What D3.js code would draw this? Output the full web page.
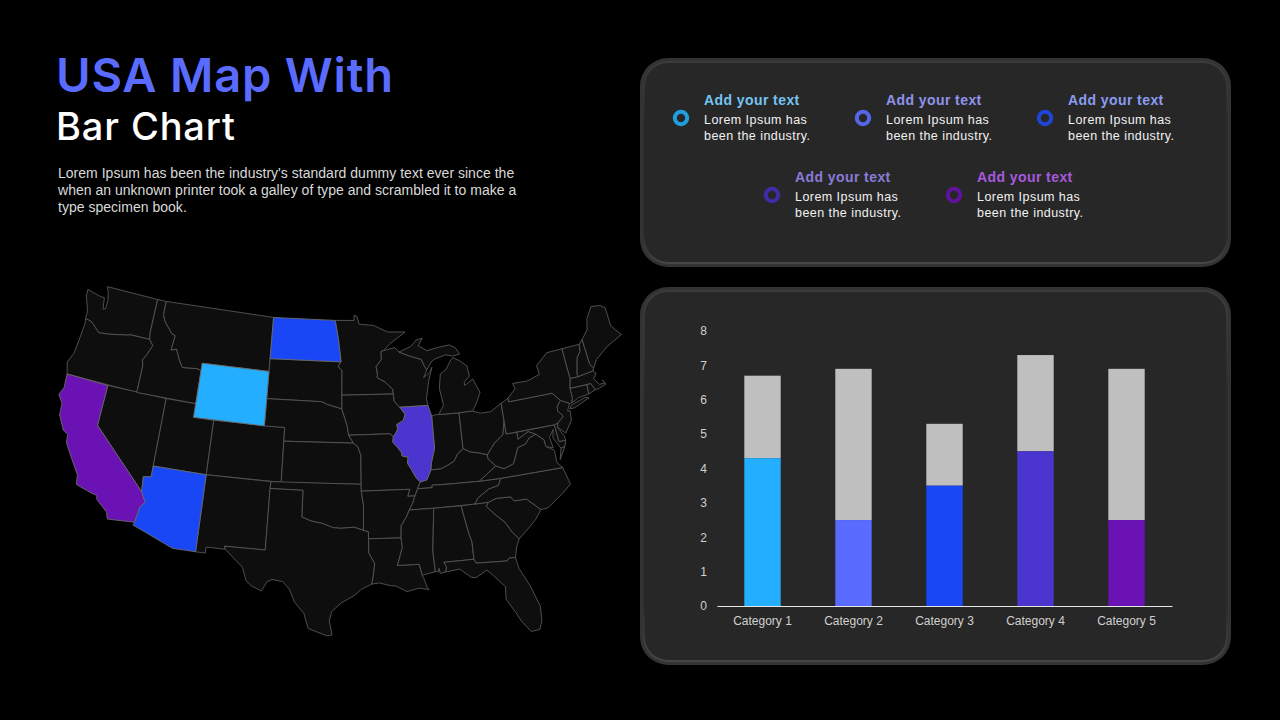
<!DOCTYPE html>
<html lang="en">
<head>
	<title>USA Map With Bar Chart</title>
	<meta charset="utf-8" />
	<script src="https://cdnjs.cloudflare.com/ajax/libs/d3/7.8.5/d3.min.js"></script>
	<style>
		html, body { margin: 0; background: #000; overflow: hidden; }
		svg { display: block; }
	</style>
</head>
<body>
	<svg width="1280" height="720"></svg>
	<script>
		// bar chart values
		const categories = ["Category 1", "Category 2", "Category 3", "Category 4", "Category 5"];
		const seriesA = [4.3, 2.5, 3.5, 4.5, 2.5];
		const seriesB = [2.4, 4.4, 1.8, 2.8, 4.4];
		const yTicks = [0, 1, 2, 3, 4, 5, 6, 7, 8];
		const barColors = ["#23aeff", "#5a6cff", "#1a47f5", "#4a35cf", "#6a12b4"];
		const barRest = "#bfbfbf";

		// legend
		const legendTitles = ["Add your text", "Add your text", "Add your text", "Add your text", "Add your text"];
		const legendLines = ["Lorem Ipsum has", "been the industry."];
		const legendTitleColors = ["#74c4f0", "#8f93ec", "#8a9cf0", "#8a7bd8", "#a65adf"];
		const legendRingColors = ["#1f9fe0", "#5566e6", "#1e44d8", "#3f2ca8", "#5f129c"];

		// text
		const bodyLines = [
			"Lorem Ipsum has been the industry's standard dummy text ever since the",
			"when an unknown printer took a galley of type and scrambled it to make a",
			"type specimen book."
		];

		// highlighted states on the map
		const stateColors = { WY: "#23aeff", ND: "#1a47f5", AZ: "#1a47f5", IL: "#4a35cf", CA: "#6a12b4" };

		// state outlines, lon/lat rings
		const stateOutlines = {
			WA: [[[-122.76,49],[-117.03,49],[-117.04,46.42],[-116.92,45.995],[-118.98,46],[-119.3,45.93],[-121.2,45.65],[-122.3,45.55],[-122.8,45.85],[-123.4,46.2],[-124.05,46.27],[-124.1,46.9],[-124.7,47.9],[-124.73,48.38],[-123.2,48.15],[-122.75,48.15],[-122.55,47.3],[-122.3,47.4],[-122.3,48],[-122.5,48.6]]],
			OR: [[[-124.05,46.27],[-123.4,46.2],[-122.8,45.85],[-122.3,45.55],[-121.2,45.65],[-119.3,45.93],[-118.98,46],[-116.92,45.995],[-116.46,45.6],[-116.85,44.9],[-117.2,44.4],[-117.03,44],[-117.03,42],[-124.21,42],[-124.55,42.84],[-124.15,43.6],[-124.05,44.7],[-123.95,45.9]]],
			CA: [[[-124.21,42],[-120,42],[-120,39],[-114.63,35],[-114.14,34.3],[-114.5,33.9],[-114.72,32.72],[-117.12,32.53],[-117.3,33],[-118.4,33.75],[-118.5,34.03],[-119.2,34.15],[-120.5,34.45],[-120.65,35.15],[-121.9,36.6],[-122.4,37.2],[-122.5,37.8],[-123,38],[-123.75,39],[-123.85,39.85],[-124.4,40.4],[-124.1,41]]],
			NV: [[[-120,42],[-114.04,42],[-114.04,36.2],[-114.75,36.1],[-114.63,35],[-120,39]]],
			ID: [[[-117.03,49],[-116.05,49],[-116.05,48],[-115.7,47.5],[-114.75,46.75],[-114.35,46.65],[-114.5,45.55],[-113.95,45.7],[-113.45,44.95],[-113,44.45],[-111.5,44.55],[-111.05,44.47],[-111.05,42],[-117.03,42],[-117.03,44],[-117.2,44.4],[-116.85,44.9],[-116.46,45.6],[-116.92,45.995],[-117.04,46.42]]],
			MT: [[[-116.05,49],[-104.05,49],[-104.05,45],[-111.05,45],[-111.05,44.47],[-111.5,44.55],[-113,44.45],[-113.45,44.95],[-113.95,45.7],[-114.5,45.55],[-114.35,46.65],[-114.75,46.75],[-115.7,47.5],[-116.05,48]]],
			WY: [[[-111.05,45],[-104.05,45],[-104.05,41],[-111.05,41]]],
			UT: [[[-114.04,42],[-111.05,42],[-111.05,41],[-109.05,41],[-109.05,37],[-114.04,37]]],
			AZ: [[[-114.04,37],[-109.05,37],[-109.05,31.33],[-111.07,31.33],[-114.81,32.5],[-114.72,32.72],[-114.5,33.9],[-114.14,34.3],[-114.63,35],[-114.75,36.1],[-114.04,36.2]]],
			CO: [[[-109.05,41],[-102.05,41],[-102.05,37],[-109.05,37]]],
			NM: [[[-109.05,37],[-103,37],[-103.04,36.5],[-103.06,32],[-106.62,32],[-106.53,31.78],[-108.2,31.78],[-108.2,31.33],[-109.05,31.33]]],
			ND: [[[-104.05,49],[-97.23,49],[-96.85,47.6],[-96.56,45.94],[-104.05,45.94]]],
			SD: [[[-104.05,45.94],[-96.56,45.94],[-96.85,45.6],[-96.45,45.3],[-96.45,43.5],[-96.45,42.49],[-97.9,42.8],[-98.5,43],[-104.05,43]]],
			NE: [[[-104.05,43],[-98.5,43],[-97.9,42.8],[-96.45,42.49],[-96.1,41.7],[-95.9,41.2],[-95.77,40.58],[-95.31,40],[-102.05,40],[-102.05,41],[-104.05,41]]],
			KS: [[[-102.05,40],[-95.31,40],[-94.9,39.75],[-94.61,39.11],[-94.62,37],[-102.05,37]]],
			OK: [[[-103,37],[-94.62,37],[-94.62,36.5],[-94.43,35.4],[-94.48,33.64],[-95.3,33.88],[-96.5,33.8],[-97.2,33.85],[-98.1,34.13],[-99.2,34.3],[-100,34.56],[-100,36.5],[-103.04,36.5]]],
			TX: [[[-103.04,36.5],[-100,36.5],[-100,34.56],[-99.2,34.3],[-98.1,34.13],[-97.2,33.85],[-96.5,33.8],[-95.3,33.88],[-94.48,33.64],[-94.04,33.55],[-94.04,33.02],[-94.04,31.99],[-93.55,31.2],[-93.7,30.3],[-93.84,29.7],[-94.7,29.35],[-95.3,28.9],[-96.4,28.35],[-97.2,27.7],[-97.4,27],[-97.15,25.96],[-97.6,25.9],[-99.1,26.4],[-99.5,27.5],[-100.3,28.3],[-100.8,29.25],[-101.4,29.77],[-102.3,29.88],[-102.7,29.7],[-103.15,28.98],[-104,29.3],[-104.5,29.65],[-104.9,30.6],[-106.53,31.78],[-106.62,32],[-103.06,32]]],
			MN: [[[-97.23,49],[-95.15,49],[-95.15,49.38],[-94.8,49.3],[-94.6,48.72],[-93,48.6],[-91.5,48.07],[-89.6,48],[-91.3,47.2],[-92.01,46.71],[-92.29,46.66],[-92.29,46.07],[-92.87,45.57],[-92.76,44.96],[-92.8,44.75],[-92,44.4],[-91.25,43.85],[-91.22,43.5],[-96.45,43.5],[-96.45,45.3],[-96.85,45.6],[-96.56,45.94],[-96.85,47.6]]],
			IA: [[[-96.45,43.5],[-91.22,43.5],[-91.15,42.95],[-90.64,42.51],[-90.15,41.98],[-90.34,41.55],[-91.05,41.25],[-90.95,40.95],[-91.12,40.7],[-91.42,40.38],[-91.73,40.61],[-95.77,40.58],[-95.9,41.2],[-96.1,41.7],[-96.45,42.49]]],
			MO: [[[-95.77,40.58],[-91.73,40.61],[-91.42,40.38],[-91.5,40],[-90.73,39.25],[-90.67,38.95],[-90.12,38.85],[-90.2,38.4],[-89.85,37.9],[-89.5,37.33],[-89.13,36.98],[-89.42,36.5],[-89.7,36],[-90.37,36],[-90.15,36.5],[-94.62,36.5],[-94.62,37],[-94.61,39.11],[-94.9,39.75],[-95.31,40]]],
			AR: [[[-94.62,36.5],[-90.15,36.5],[-90.37,36],[-89.7,36],[-89.95,35.5],[-90.3,35],[-90.6,34.5],[-91.1,33.9],[-91.17,33],[-94.04,33.02],[-94.04,33.55],[-94.48,33.64],[-94.43,35.4]]],
			LA: [[[-94.04,33.02],[-91.17,33],[-91.1,32.3],[-91.6,31],[-89.73,31],[-89.53,30.18],[-89.4,29.9],[-89.2,29.3],[-89.05,29.1],[-89.9,29.25],[-90.9,29.05],[-91.8,29.5],[-92.3,29.55],[-93.2,29.77],[-93.84,29.7],[-93.7,30.3],[-93.55,31.2],[-94.04,31.99]]],
			WI: [[[-92.01,46.71],[-90.8,46.9],[-90.4,46.55],[-89.1,46.15],[-88.1,45.9],[-87.8,45.35],[-87.6,45.1],[-88,44.55],[-87.35,44.9],[-87.05,45.25],[-87.5,44.3],[-87.9,43],[-87.8,42.49],[-90.64,42.51],[-91.15,42.95],[-91.22,43.5],[-91.25,43.85],[-92,44.4],[-92.8,44.75],[-92.76,44.96],[-92.87,45.57],[-92.29,46.07],[-92.29,46.66]]],
			IL: [[[-90.64,42.51],[-87.8,42.49],[-87.53,41.71],[-87.53,39.35],[-87.95,38.3],[-88.05,37.8],[-88.5,37.1],[-89.13,36.98],[-89.5,37.33],[-89.85,37.9],[-90.2,38.4],[-90.12,38.85],[-90.67,38.95],[-90.73,39.25],[-91.5,40],[-91.42,40.38],[-91.12,40.7],[-90.95,40.95],[-91.05,41.25],[-90.34,41.55],[-90.15,41.98]]],
			IN: [[[-87.53,41.71],[-87.2,41.76],[-86.82,41.76],[-84.8,41.72],[-84.82,39.1],[-85.42,38.73],[-85.8,38.25],[-86.5,38],[-87.1,37.8],[-88.05,37.8],[-87.95,38.3],[-87.53,39.35]]],
			MI: [
				[[-86.82,41.76],[-86.25,42.4],[-86.5,43.65],[-86.25,44.7],[-85.6,45],[-85,45.65],[-84.75,45.78],[-84.1,45.5],[-83.4,45.05],[-83.3,44.3],[-83.9,43.9],[-83.9,43.65],[-83,44.05],[-82.45,43],[-82.9,42.35],[-83.15,42.05],[-83.45,41.73],[-84.8,41.72]],
				[[-90.4,46.55],[-89.1,46.9],[-88.45,47.35],[-87.8,47.45],[-88.3,46.9],[-87.4,46.5],[-86.1,46.67],[-85,46.75],[-84.4,46.5],[-84,46],[-84.75,45.9],[-85.5,46.05],[-86.6,45.85],[-87,45.7],[-87.6,45.1],[-87.8,45.35],[-88.1,45.9],[-89.1,46.15]]
			],
			OH: [[[-84.8,41.72],[-83.45,41.73],[-82.7,41.5],[-81.7,41.5],[-80.52,41.98],[-80.52,40.64],[-80.85,39.7],[-81.75,39.2],[-82.1,38.9],[-82.6,38.42],[-83.2,38.6],[-84.2,38.8],[-84.82,39.1]]],
			KY: [[[-89.13,36.98],[-88.5,37.1],[-88.05,37.8],[-87.1,37.8],[-86.5,38],[-85.8,38.25],[-85.42,38.73],[-84.82,39.1],[-84.2,38.8],[-83.2,38.6],[-82.6,38.42],[-82.6,38.15],[-81.97,37.54],[-83.68,36.6],[-86.5,36.65],[-88.07,36.68],[-88.07,36.5],[-89.42,36.5]]],
			TN: [[[-89.42,36.5],[-88.07,36.5],[-88.07,36.68],[-86.5,36.65],[-83.68,36.6],[-81.68,36.59],[-82,36.1],[-82.9,35.95],[-84,35.4],[-84.32,34.99],[-88.2,35],[-90.3,35],[-89.95,35.5],[-89.7,36]]],
			MS: [[[-90.3,35],[-88.2,35],[-88.1,34.9],[-88.47,31.9],[-88.4,30.37],[-89.53,30.18],[-89.73,31],[-91.6,31],[-91.1,32.3],[-91.17,33],[-91.1,33.9],[-90.6,34.5]]],
			AL: [[[-88.2,35],[-85.6,34.98],[-85.18,32.87],[-85,32.3],[-85,31],[-87.6,31],[-87.4,30.65],[-87.52,30.28],[-88,30.22],[-88.05,30.6],[-88.15,30.35],[-88.4,30.37],[-88.47,31.9],[-88.1,34.9]]],
			GA: [[[-85.6,34.98],[-83.11,35],[-83.35,34.7],[-82.6,34],[-81.9,33.4],[-81.4,32.6],[-80.88,32.03],[-81.2,31.5],[-81.45,30.72],[-82,30.75],[-82.2,30.56],[-84.86,30.7],[-85,31],[-85,32.3],[-85.18,32.87]]],
			FL: [[[-87.6,31],[-85,31],[-84.86,30.7],[-82.2,30.56],[-82,30.75],[-81.45,30.72],[-81.3,29.9],[-80.6,28.5],[-80.05,26.9],[-80.12,25.8],[-80.4,25.2],[-81.1,25.15],[-81.75,26],[-82.1,26.7],[-82.75,27.8],[-82.65,28.7],[-83.4,29.5],[-84,30.1],[-85,29.65],[-85.4,29.7],[-86.3,30.4],[-87.52,30.28],[-87.4,30.65]]],
			SC: [[[-83.11,35],[-82.35,35.2],[-81.05,35.15],[-80.8,34.82],[-79.67,34.8],[-78.55,33.86],[-79.2,33.2],[-79.9,32.7],[-80.88,32.03],[-81.4,32.6],[-81.9,33.4],[-82.6,34],[-83.35,34.7]]],
			NC: [[[-84.32,34.99],[-84,35.4],[-82.9,35.95],[-82,36.1],[-81.68,36.59],[-75.87,36.55],[-75.5,35.25],[-76.5,34.65],[-77.9,33.9],[-78.55,33.86],[-79.67,34.8],[-80.8,34.82],[-81.05,35.15],[-82.35,35.2],[-83.11,35]]],
			VA: [
				[[-83.68,36.6],[-81.68,36.59],[-75.87,36.55],[-76.3,37],[-76.3,37.9],[-77,38.3],[-77.05,38.8],[-77.72,39.32],[-78.4,39.15],[-78.87,38.76],[-79.65,38.6],[-80.3,37.5],[-81.25,37.25],[-81.97,37.54]],
				[[-75.25,38.03],[-75.95,37.15],[-75.65,37.95]]
			],
			WV: [[[-80.52,40.64],[-80.52,39.72],[-79.48,39.72],[-79.48,39.2],[-78.4,39.62],[-77.72,39.32],[-78.4,39.15],[-78.87,38.76],[-79.65,38.6],[-80.3,37.5],[-81.25,37.25],[-81.97,37.54],[-82.6,38.15],[-82.6,38.42],[-82.1,38.9],[-81.75,39.2],[-80.85,39.7]]],
			MD: [[[-79.48,39.72],[-75.79,39.72],[-75.7,38.46],[-75.05,38.45],[-75.25,38.03],[-75.65,37.95],[-76.2,38.8],[-76,39.4],[-76.5,38.9],[-76.35,38.1],[-77,38.3],[-77.05,38.8],[-77.72,39.32],[-78.4,39.62],[-79.48,39.2]]],
			DE: [[[-75.79,39.72],[-75.4,39.8],[-75.55,39.45],[-75.1,38.8],[-75.05,38.45],[-75.7,38.46]]],
			PA: [[[-80.52,41.98],[-79.76,42.27],[-79.76,42],[-75.35,42],[-74.7,41.36],[-75.13,40.98],[-75.2,40.65],[-74.75,40.2],[-75.4,39.8],[-75.79,39.72],[-80.52,39.72]]],
			NJ: [[[-74.7,41.36],[-73.9,41],[-74.25,40.5],[-74,40.45],[-74.1,39.75],[-74.9,38.95],[-75.55,39.5],[-75.4,39.8],[-74.75,40.2],[-75.2,40.65],[-75.13,40.98]]],
			NY: [
				[[-79.76,42.27],[-78.9,42.85],[-79.05,43.27],[-77.5,43.25],[-76.2,43.55],[-76.3,44.2],[-75,44.98],[-73.35,45.01],[-73.3,43.6],[-73.25,42.75],[-73.5,42.05],[-73.5,41.3],[-73.65,41],[-73.9,41],[-74.7,41.36],[-75.35,42],[-79.76,42]],
				[[-74,40.6],[-73.75,40.85],[-72.3,41.15],[-71.9,41.05],[-73.5,40.6]]
			],
			VT: [[[-73.35,45.01],[-71.5,45.01],[-71.6,44.5],[-72.05,44.1],[-72.45,43],[-72.46,42.73],[-73.25,42.75],[-73.3,43.6]]],
			NH: [[[-71.5,45.01],[-71.08,45.3],[-70.98,43.4],[-70.7,43.07],[-70.82,42.87],[-72.46,42.73],[-72.45,43],[-72.05,44.1],[-71.6,44.5]]],
			ME: [[[-71.08,45.3],[-70.3,45.9],[-70,46.7],[-69.23,47.46],[-68.3,47.36],[-67.8,47.07],[-67.8,45.7],[-67.45,45.3],[-67,44.85],[-68.8,44.3],[-70.2,43.6],[-70.7,43.07],[-70.98,43.4]]],
			MA: [[[-73.5,42.05],[-73.25,42.75],[-72.46,42.73],[-70.82,42.87],[-70.6,42.65],[-71,42.3],[-70.55,41.8],[-70,41.8],[-70.2,42.07],[-69.95,41.7],[-70.65,41.53],[-71.12,41.5],[-71.38,42.02]]],
			RI: [[[-71.38,42.02],[-71.8,42.01],[-71.85,41.32],[-71.12,41.5]]],
			CT: [[[-73.5,42.05],[-71.8,42.01],[-71.85,41.32],[-72.9,41.25],[-73.65,41],[-73.5,41.3]]]
		};

		let svg = d3.select('svg');
		const sans = "'Liberation Sans', Arial, sans-serif";

		// heading
		svg.append('text')
			.attr('x', 56).attr('y', 92)
			.attr('font-family', "Inter, 'Open Sans', sans-serif")
			.attr('font-weight', 600).attr('font-size', 47)
			.attr('fill', '#5a6cff')
			.attr('textLength', 337)
			.text("USA Map With");
		svg.append('text')
			.attr('x', 56).attr('y', 140)
			.attr('font-family', "Inter, 'Open Sans', sans-serif")
			.attr('font-weight', 500).attr('font-size', 38)
			.attr('fill', '#ffffff')
			.attr('textLength', 179)
			.text("Bar Chart");
		svg.selectAll('text.body')
			.data(bodyLines)
			.enter()
			.append('text')
			.attr('class', 'body')
			.attr('x', 58)
			.attr('y', (d, i) => 178 + i * 17)
			.attr('font-family', sans).attr('font-size', 14)
			.attr('letter-spacing', 0.02)
			.attr('fill', '#d9d9d9')
			.text(d => d);

		// soft top and bottom light on the panel edge
		let edge = svg.append('defs').append('linearGradient')
			.attr('id', 'edge').attr('x1', 0).attr('y1', 0).attr('x2', 0).attr('y2', 1);
		edge.append('stop').attr('offset', '0%').attr('stop-color', '#3c3c3c');
		edge.append('stop').attr('offset', '30%').attr('stop-color', '#2b2b2b');
		edge.append('stop').attr('offset', '85%').attr('stop-color', '#2b2b2b');
		edge.append('stop').attr('offset', '100%').attr('stop-color', '#464646');

		// rounded panels
		function panel(x, y, w, h) {
			svg.append('rect')
				.attr('x', x).attr('y', y).attr('width', w).attr('height', h)
				.attr('rx', 28).attr('fill', '#333333');
			svg.append('rect')
				.attr('x', x + 3).attr('y', y + 3).attr('width', w - 6).attr('height', h - 6)
				.attr('rx', 25).attr('fill', 'url(#edge)');
			svg.append('rect')
				.attr('x', x + 5).attr('y', y + 5).attr('width', w - 10).attr('height', h - 10)
				.attr('rx', 23).attr('fill', '#272727');
		}
		panel(640, 58, 591, 209);
		panel(640, 287, 591, 378);

		// legend
		const legendX = d3.scaleOrdinal().domain([0, 1, 2, 3, 4]).range([681, 863, 1045, 772, 954]);
		const legendY = d3.scaleOrdinal().domain([0, 1, 2, 3, 4]).range([118, 118, 118, 195, 195]);
		let legend = svg.selectAll('g.legend')
			.data(legendTitles)
			.enter()
			.append('g')
			.attr('class', 'legend')
			.attr('transform', (d, i) => `translate(${legendX(i)},${legendY(i)})`);
		legend.append('circle')
			.attr('r', 6.2)
			.attr('fill', 'none')
			.attr('stroke-width', 4)
			.attr('stroke', (d, i) => legendRingColors[i]);
		legend.append('text')
			.attr('x', 23).attr('y', -13)
			.attr('font-family', sans).attr('font-weight', 700).attr('font-size', 14)
			.attr('letter-spacing', 0.42)
			.attr('fill', (d, i) => legendTitleColors[i])
			.text(d => d);
		legendLines.forEach((line, n) => {
			legend.append('text')
				.attr('x', 23).attr('y', 6 + n * 16)
				.attr('font-family', sans).attr('font-size', 12.5)
				.attr('letter-spacing', 0.45)
				.attr('fill', '#f2f2f2')
				.text(line);
		});

		// stacked bars
		let x = d3.scaleBand().domain(categories).range([717, 1172]).paddingInner(0.6).paddingOuter(0.3);
		let y = d3.scaleLinear().domain([0, 8]).range([606, 331]);
		let stackRows = categories.map((c, i) => ({ category: c, a: seriesA[i], b: seriesB[i], color: barColors[i] }));
		let stacked = d3.stack().keys(['a', 'b'])(stackRows);

		svg.selectAll('rect.rest')
			.data(stacked[1])
			.enter()
			.append('rect')
			.attr('class', 'rest')
			.attr('x', d => x(d.data.category))
			.attr('width', x.bandwidth())
			.attr('y', d => y(d[1]))
			.attr('height', d => y(d[0]) - y(d[1]))
			.attr('fill', barRest);
		svg.selectAll('rect.main')
			.data(stacked[0])
			.enter()
			.append('rect')
			.attr('class', 'main')
			.attr('x', d => x(d.data.category))
			.attr('width', x.bandwidth())
			.attr('y', d => y(d[1]))
			.attr('height', d => y(d[0]) - y(d[1]))
			.attr('fill', d => d.data.color);

		let xAxis = svg.append('g')
			.attr('transform', 'translate(0,606)')
			.call(d3.axisBottom(x).tickSize(0).tickPadding(10));
		xAxis.select('.domain').attr('stroke', '#e6e6e6').attr('stroke-width', 1);
		let yAxis = svg.append('g')
			.attr('transform', 'translate(707,0)')
			.call(d3.axisLeft(y).tickValues(yTicks).tickSize(0).tickPadding(0).tickFormat(d3.format('d')));
		yAxis.select('.domain').remove();
		svg.selectAll('.tick text')
			.attr('font-family', sans).attr('font-size', 12)
			.attr('fill', '#d0d0d0');

		// map
		let projection = d3.geoAlbers().scale(780).translate([340, 461]);
		let ringLine = d3.line();
		let states = svg.append('g').attr('class', 'states');
		states.selectAll('path')
			.data(Object.entries(stateOutlines).sort((a, b) => (a[0] in stateColors) - (b[0] in stateColors)))
			.enter()
			.append('path')
			.attr('d', d => d[1].map(ring => ringLine(ring.map(projection)) + 'Z').join(''))
			.attr('fill', d => stateColors[d[0]] || '#0e0e0e')
			.attr('stroke', d => d[0] in stateColors ? '#6a6a6a' : '#565656')
			.attr('stroke-width', 0.9)
			.attr('stroke-linejoin', 'round');
	</script>
</body>
</html>
